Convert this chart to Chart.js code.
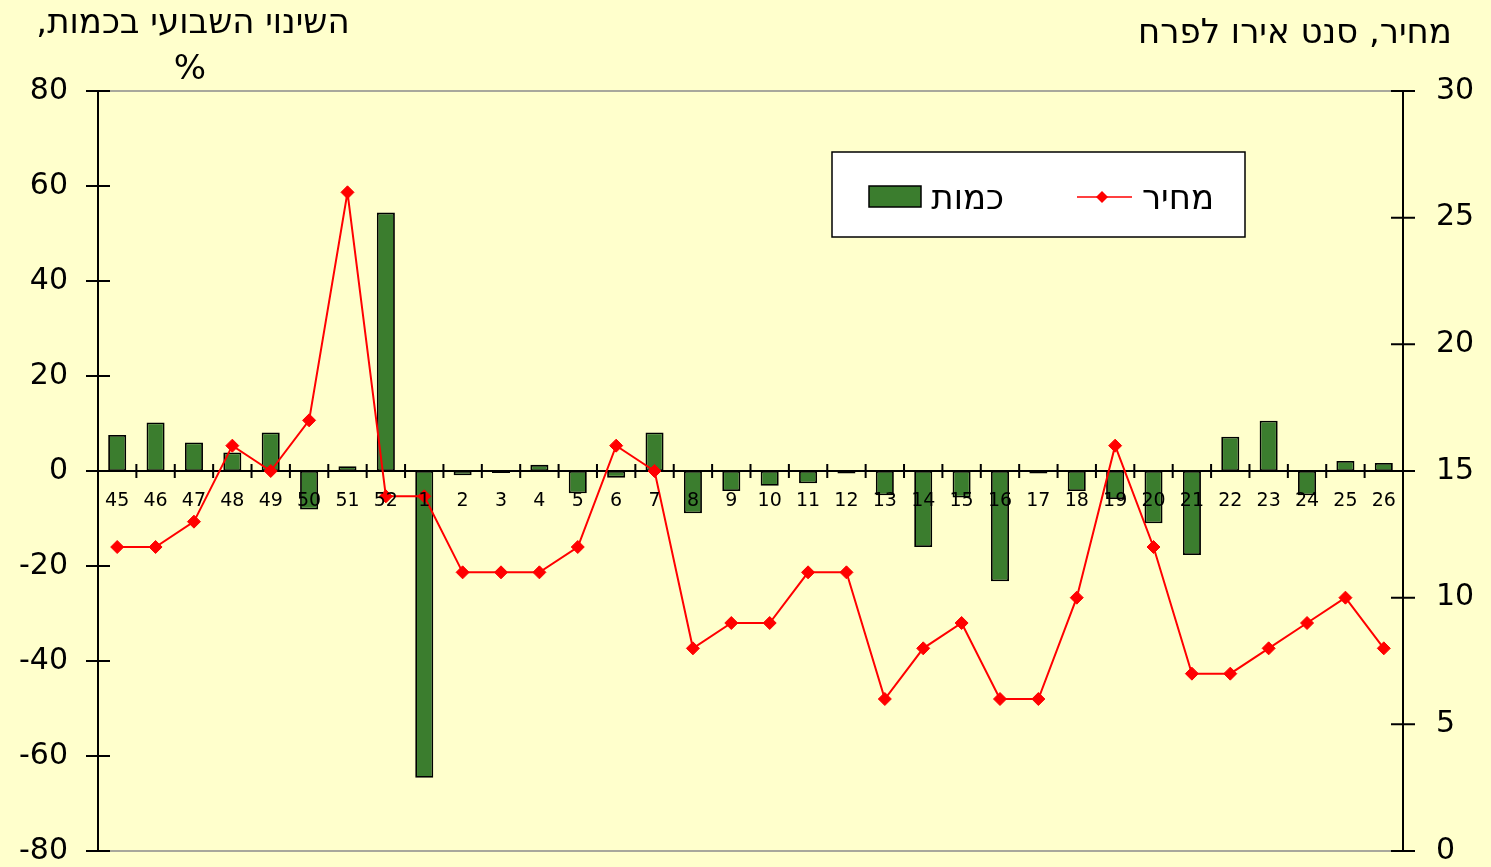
<!DOCTYPE html>
<html lang="he">
<head>
<meta charset="utf-8">
<title>כמות ומחיר</title>
<script src="https://cdn.jsdelivr.net/npm/chart.js@4.4.1/dist/chart.umd.min.js"></script>
<style>
  html, body { margin: 0; padding: 0; background: #FFFFCC; }
  canvas { display: block; }
</style>
</head>
<body>
<canvas id="chart" width="1491" height="867"></canvas>
<script>
// weeks 45..52 of one year, then 1..26 of the next
const weeks = ['45', '46', '47', '48', '49', '50', '51', '52',
  '1', '2', '3', '4', '5', '6', '7', '8', '9', '10', '11', '12', '13',
  '14', '15', '16', '17', '18', '19', '20', '21', '22', '23', '24', '25', '26'];

// weekly change in quantity, %
const quantityChange = [7.6, 10.2, 6.0, 3.9, 8.1, -8.1, 1.0, 54.4,
  -64.6, -0.9, -0.4, 1.3, -4.7, -1.4, 8.1, -8.9, -4.2, -3.1, -2.6, -0.5, -5.1,
  -16.0, -5.6, -23.2, -0.5, -4.2, -5.9, -11.0, -17.7, 7.2, 10.6, -5.1, 2.1, 1.7];

// price, euro cents per flower
const price = [12, 12, 13, 16, 15, 17, 26, 14,
  14, 11, 11, 11, 12, 16, 15, 8, 9, 9, 11, 11, 6,
  8, 9, 6, 6, 10, 16, 12, 7, 7, 8, 9, 10, 8];

const leftTitle = ['השינוי השבועי בכמות,', '%'];
const rightTitle = 'מחיר, סנט אירו לפרח';

const FONT = "'DejaVu Sans', 'Liberation Sans', sans-serif";
const GREEN = '#3b7d2e';
const RED = '#ff0000';

const decorations = {
  id: 'decorations',
  beforeDraw(chart) {
    const ctx = chart.ctx;
    ctx.save();
    ctx.fillStyle = '#FFFFCC';
    ctx.fillRect(0, 0, chart.width, chart.height);
    ctx.restore();
  },
  beforeDatasetsDraw(chart) {
    const { ctx, chartArea: a, scales } = chart;
    const zeroY = scales.y.getPixelForValue(0);
    ctx.save();
    // grey plot frame, top and bottom
    ctx.strokeStyle = '#8c8c8c';
    ctx.lineWidth = 1.5;
    ctx.beginPath();
    ctx.moveTo(a.left, a.top); ctx.lineTo(a.right, a.top);
    ctx.moveTo(a.left, a.bottom); ctx.lineTo(a.right, a.bottom);
    ctx.stroke();

    ctx.strokeStyle = '#000';
    ctx.lineWidth = 2;
    ctx.beginPath();
    // zero line
    ctx.moveTo(a.left - 12, zeroY); ctx.lineTo(a.right + 12, zeroY);
    // crossing ticks on both value axes
    scales.y.ticks.forEach(t => {
      const py = scales.y.getPixelForValue(t.value);
      ctx.moveTo(a.left - 12, py); ctx.lineTo(a.left + 12, py);
    });
    scales.y1.ticks.forEach(t => {
      const py = scales.y1.getPixelForValue(t.value);
      ctx.moveTo(a.right - 12, py); ctx.lineTo(a.right + 12, py);
    });
    // category boundaries on the zero line
    const w = (a.right - a.left) / weeks.length;
    for (let i = 1; i < weeks.length; i++) {
      const px = a.left + i * w;
      ctx.moveTo(px, zeroY - 7); ctx.lineTo(px, zeroY + 7);
    }
    ctx.stroke();
    ctx.restore();
  },
  afterDraw(chart) {
    const ctx = chart.ctx;
    ctx.save();
    ctx.fillStyle = '#000';
    ctx.font = '34px ' + FONT;
    ctx.direction = 'rtl';
    ctx.textAlign = 'center';
    ctx.textBaseline = 'alphabetic';
    ctx.fillText(leftTitle[0], 193, 33);
    ctx.fillText(leftTitle[1], 190, 79);
    ctx.fillText(rightTitle, 1295, 43);

    // legend
    const bars = chart.data.datasets[0];
    const line = chart.data.datasets[1];
    ctx.fillStyle = '#fff';
    ctx.fillRect(832, 152, 413, 85);
    ctx.strokeStyle = '#000';
    ctx.lineWidth = 1.5;
    ctx.strokeRect(832, 152, 413, 85);

    ctx.fillStyle = bars.backgroundColor;
    ctx.fillRect(869, 186, 52, 21);
    ctx.strokeRect(869, 186, 52, 21);

    ctx.strokeStyle = line.borderColor;
    ctx.lineWidth = 1.5;
    ctx.beginPath();
    ctx.moveTo(1077, 197); ctx.lineTo(1132, 197);
    ctx.stroke();
    ctx.fillStyle = line.borderColor;
    ctx.beginPath();
    ctx.moveTo(1102, 191); ctx.lineTo(1108, 197); ctx.lineTo(1102, 203); ctx.lineTo(1096, 197);
    ctx.closePath();
    ctx.fill();

    ctx.fillStyle = '#000';
    ctx.textAlign = 'right';
    ctx.fillText(bars.label, 1004, 209);
    ctx.fillText(line.label, 1214, 209);
    ctx.restore();
  }
};

new Chart(document.getElementById('chart'), {
  data: {
    labels: weeks,
    datasets: [
      {
        type: 'bar',
        label: 'כמות',
        data: quantityChange,
        yAxisID: 'y',
        backgroundColor: GREEN,
        borderColor: '#000',
        borderWidth: 1.8,
        borderSkipped: false,
        categoryPercentage: 1,
        barPercentage: 0.47,
        order: 2
      },
      {
        type: 'line',
        label: 'מחיר',
        data: price,
        yAxisID: 'y1',
        borderColor: RED,
        borderWidth: 2,
        pointStyle: 'rectRot',
        pointRadius: 6.5,
        pointBackgroundColor: RED,
        pointBorderColor: RED,
        pointBorderWidth: 1,
        tension: 0,
        order: 1
      }
    ]
  },
  options: {
    responsive: false,
    animation: false,
    layout: { padding: { left: 0, right: 0, top: 91, bottom: 16 } },
    plugins: {
      legend: { display: false },
      tooltip: { enabled: false }
    },
    scales: {
      x: {
        type: 'category',
        position: { y: 0 },
        offset: true,
        grid: { display: false, drawTicks: false },
        border: { display: false },
        ticks: {
          z: 1,
          autoSkip: false,
          maxRotation: 0,
          padding: 19,
          color: '#000',
          font: { family: FONT, size: 19 }
        },
        afterFit(scale) { scale.height = 0; }
      },
      y: {
        position: 'left',
        min: -80,
        max: 80,
        grid: { display: false, drawTicks: false },
        border: { display: true, color: '#000', width: 2 },
        ticks: {
          stepSize: 20,
          padding: 30,
          color: '#000',
          font: { family: FONT, size: 30 }
        },
        afterFit(scale) {
          scale.width = 98;
          scale.paddingTop = 0;
          scale.paddingBottom = 0;
        }
      },
      y1: {
        position: 'right',
        min: 0,
        max: 30,
        grid: { display: false, drawTicks: false },
        border: { display: true, color: '#000', width: 2 },
        ticks: {
          stepSize: 5,
          padding: 33,
          color: '#000',
          font: { family: FONT, size: 30 }
        },
        afterFit(scale) {
          scale.width = 88;
          scale.paddingTop = 0;
          scale.paddingBottom = 0;
        }
      }
    }
  },
  plugins: [decorations]
});
</script>
</body>
</html>
